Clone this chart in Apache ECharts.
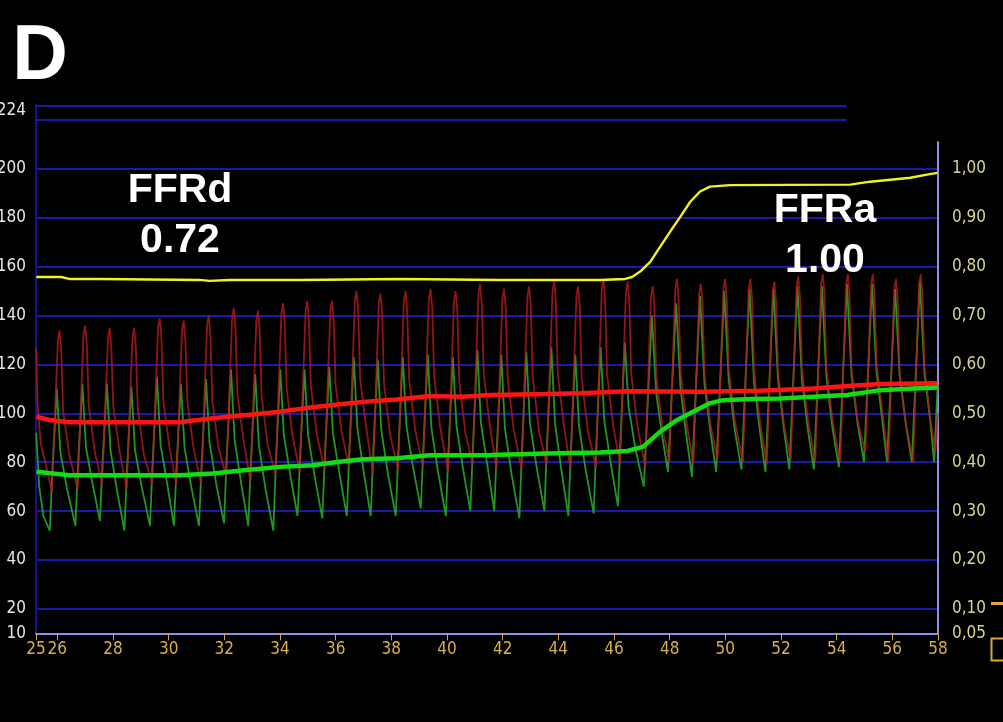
<!DOCTYPE html>
<html>
<head>
<meta charset="utf-8">
<script src="https://cdn.jsdelivr.net/npm/echarts@6/dist/echarts.min.js"></script>
<style>
  html, body { margin: 0; padding: 0; background: #000; }
  #chart { width: 1003px; height: 722px; }
</style>
</head>
<body>
<div id="chart"></div>
<script>
// Recording window (s)
const timeStart = 25.234;
const timeEnd = 57.64;
const timeTicks = [25.234, 26, 28, 30, 32, 34, 36, 38, 40, 42, 44, 46, 48, 50, 52, 54, 56, 57.64];

// Pressure axis (mmHg)
const pressureMin = 10;
const pressureMax = 226.3;
const pressureLabels = [10, 20, 40, 60, 80, 100, 120, 140, 160, 180, 200, 224];
const pressureGrid = [20, 40, 60, 80, 100, 120, 140, 160, 180, 200];
const headerBands = [226.0, 220.3];
const headerBandEnd = 54.35;

// Ratio axis (Pd/Pa)
const ratioMin = 0.05;
const ratioMax = 1.0552;
const ratioLabels = [0.05, 0.1, 0.2, 0.3, 0.4, 0.5, 0.6, 0.7, 0.8, 0.9, 1.0];

// Aortic pressure waveform (Pa), [time, mmHg]
const paWave = [
  [25.24,127],[25.29,104],[25.40,88],
  [25.81,68],[26.02,130],[26.08,134],[26.14,126],[26.21,101],[26.43,83],
  [26.73,69],[26.94,132],[27.00,136],[27.06,128],[27.13,103],[27.35,84],
  [27.61,71],[27.82,131],[27.88,135],[27.94,127],[28.01,103],[28.23,85],
  [28.49,69],[28.70,131],[28.76,135],[28.82,127],[28.89,102],[29.11,83],
  [29.41,71],[29.62,135],[29.68,139],[29.74,131],[29.81,105],[30.03,86],
  [30.27,71],[30.48,134],[30.54,138],[30.60,130],[30.67,105],[30.89,86],
  [31.17,71],[31.38,136],[31.44,140],[31.50,132],[31.57,105],[31.79,86],
  [32.07,74],[32.28,139],[32.34,143],[32.40,135],[32.47,108],[32.69,89],
  [32.94,72],[33.15,138],[33.21,142],[33.27,134],[33.34,107],[33.56,87],
  [33.84,75],[34.05,141],[34.11,145],[34.17,137],[34.24,110],[34.46,90],
  [34.71,76],[34.92,142],[34.98,146],[35.04,138],[35.11,111],[35.33,91],
  [35.60,77],[35.81,142],[35.87,146],[35.93,138],[36.00,111],[36.22,92],
  [36.48,78],[36.69,146],[36.75,150],[36.81,142],[36.88,114],[37.10,94],
  [37.34,75],[37.55,145],[37.61,149],[37.67,141],[37.74,112],[37.96,91],
  [38.24,77],[38.45,146],[38.51,150],[38.57,142],[38.64,114],[38.86,93],
  [39.14,78],[39.35,147],[39.41,151],[39.47,143],[39.54,115],[39.76,94],
  [40.04,76],[40.25,146],[40.31,150],[40.37,142],[40.44,113],[40.66,92],
  [40.92,79],[41.13,149],[41.19,153],[41.25,145],[41.32,116],[41.54,95],
  [41.78,77],[41.99,147],[42.05,151],[42.11,143],[42.18,114],[42.40,93],
  [42.68,77],[42.89,148],[42.95,152],[43.01,144],[43.08,115],[43.30,93],
  [43.58,79],[43.79,150],[43.85,154],[43.91,146],[43.98,116],[44.20,95],
  [44.44,77],[44.65,148],[44.71,152],[44.77,144],[44.84,114],[45.06,93],
  [45.35,78],[45.56,151],[45.62,155],[45.68,147],[45.75,116],[45.97,95],
  [46.22,79],[46.43,150],[46.49,154],[46.55,146],[46.62,116],[46.84,95],
  [47.12,78],[47.33,148],[47.39,152],[47.45,144],[47.52,115],[47.74,94],
  [47.99,80],[48.20,151],[48.26,155],[48.32,147],[48.39,117],[48.61,96],
  [48.85,79],[49.06,149],[49.12,153],[49.18,145],[49.25,116],[49.47,95],
  [49.72,81],[49.93,151],[49.99,155],[50.05,147],[50.12,118],[50.34,97],
  [50.63,80],[50.84,151],[50.90,155],[50.96,147],[51.03,117],[51.25,96],
  [51.49,79],[51.70,150],[51.76,154],[51.82,146],[51.89,117],[52.11,95],
  [52.35,81],[52.56,152],[52.62,156],[52.68,148],[52.75,118],[52.97,97],
  [53.23,80],[53.44,153],[53.50,157],[53.56,149],[53.63,118],[53.85,97],
  [54.13,80],[54.34,153],[54.40,157],[54.46,149],[54.53,118],[54.75,97],
  [55.03,84],[55.24,153],[55.30,157],[55.36,149],[55.43,120],[55.65,100],
  [55.86,80],[56.07,151],[56.13,155],[56.19,147],[56.26,117],[56.48,96],
  [56.75,80],[56.96,153],[57.02,157],[57.08,149],[57.15,119],[57.37,97],
  [57.55,84],[57.63,100]
];

// Distal pressure waveform (Pd), [time, mmHg]
const pdWave = [
  [25.24,92],[25.35,70],[25.50,58],
  [25.73,52],[25.82,76],[25.98,110],[26.11,84],[26.35,69],
  [26.65,54],[26.74,78],[26.90,112],[27.03,86],[27.27,71],
  [27.53,56],[27.62,79],[27.78,112],[27.91,85],[28.15,68],
  [28.41,52],[28.50,76],[28.66,111],[28.79,85],[29.03,70],
  [29.33,54],[29.42,79],[29.58,115],[29.71,87],[29.95,71],
  [30.19,54],[30.28,77],[30.44,112],[30.57,86],[30.81,70],
  [31.09,54],[31.18,78],[31.34,114],[31.47,88],[31.71,71],
  [31.99,55],[32.08,81],[32.24,118],[32.37,89],[32.61,71],
  [32.86,54],[32.95,79],[33.11,116],[33.24,87],[33.48,69],
  [33.76,52],[33.85,79],[34.01,118],[34.14,91],[34.38,74],
  [34.63,58],[34.72,82],[34.88,118],[35.01,91],[35.25,74],
  [35.52,57],[35.61,82],[35.77,119],[35.90,92],[36.14,75],
  [36.40,58],[36.49,84],[36.65,123],[36.78,94],[37.02,75],
  [37.26,58],[37.35,84],[37.51,122],[37.64,93],[37.88,75],
  [38.16,58],[38.25,84],[38.41,123],[38.54,95],[38.78,78],
  [39.06,61],[39.15,86],[39.31,124],[39.44,94],[39.68,76],
  [39.96,58],[40.05,84],[40.21,123],[40.34,95],[40.58,77],
  [40.84,60],[40.93,86],[41.09,126],[41.22,96],[41.46,78],
  [41.70,60],[41.79,86],[41.95,124],[42.08,94],[42.32,75],
  [42.60,57],[42.69,84],[42.85,125],[42.98,96],[43.22,78],
  [43.50,60],[43.59,87],[43.75,127],[43.88,96],[44.12,76],
  [44.36,58],[44.45,85],[44.61,124],[44.74,95],[44.98,77],
  [45.27,59],[45.36,86],[45.52,127],[45.65,97],[45.89,79],
  [46.14,62],[46.23,89],[46.39,129],[46.52,103],[46.76,86],
  [47.07,70],[47.36,140],[47.52,108],[47.74,90],
  [47.94,76],[48.23,145],[48.39,110],[48.61,90],
  [48.80,74],[49.09,148],[49.25,112],[49.47,92],
  [49.67,76],[49.96,150],[50.12,114],[50.34,93],
  [50.58,77],[50.87,151],[51.03,113],[51.25,92],
  [51.44,76],[51.73,151],[51.89,114],[52.11,93],
  [52.30,77],[52.59,152],[52.75,114],[52.97,93],
  [53.18,77],[53.47,152],[53.63,115],[53.85,94],
  [54.08,78],[54.37,153],[54.53,116],[54.75,96],
  [54.98,80],[55.27,153],[55.43,117],[55.65,96],
  [55.81,80],[56.10,151],[56.26,116],[56.48,96],
  [56.70,80],[56.99,154],[57.15,117],[57.37,96],
  [57.50,80],[57.63,112]
];

// Mean aortic pressure (Pa mean), [time, mmHg]
const paMean = [
  [25.25,98.6],[25.71,97.3],[26.43,96.4],[28.59,96.4],[30.39,96.4],[31.58,98.0],
  [32.80,99.3],[33.99,100.7],[35.17,102.5],[36.14,103.7],[36.97,104.7],[38.19,105.7],
  [39.38,107.1],[40.57,106.8],[41.54,107.5],[43.59,107.9],[44.78,108.2],[46.47,109.0],
  [49.09,108.8],[51.25,109.3],[53.16,110.2],[54.38,111.2],[55.57,112.0],[57.62,112.3]
];

// Mean distal pressure (Pd mean), [time, mmHg]
const pdMean = [
  [25.25,76.1],[26.43,74.7],[30.39,74.7],[31.58,75.4],[32.80,76.8],[33.99,78.1],
  [35.17,78.8],[36.14,80.2],[36.97,81.2],[38.19,81.6],[39.38,82.9],[41.54,83.0],
  [43.59,83.6],[45.50,84.0],[46.47,84.6],[47.04,86.3],[47.66,92.5],[48.27,97.3],
  [48.84,100.7],[49.46,104.2],[49.92,105.4],[50.89,105.9],[51.97,106.1],[53.16,106.8],
  [54.38,107.5],[55.57,109.5],[56.75,110.2],[57.62,110.6]
];

// Pd/Pa ratio trace, [time, ratio]
const ratioTrace = [
  [25.245,0.779],[26.14,0.779],[26.43,0.775],[27.51,0.775],[31.11,0.773],[31.47,0.771],
  [32.19,0.773],[34.71,0.773],[38.30,0.775],[41.90,0.773],[45.50,0.773],[46.40,0.775],
  [46.65,0.779],[46.94,0.790],[47.30,0.810],[47.66,0.841],[48.02,0.872],[48.38,0.902],
  [48.74,0.933],[49.09,0.954],[49.45,0.964],[50.17,0.967],[54.49,0.968],[55.21,0.974],
  [55.93,0.978],[56.65,0.982],[57.19,0.988],[57.62,0.992]
];

const narrow = '"DejaVu Sans Condensed", "Liberation Sans Narrow", "Liberation Sans", sans-serif';
const gridBlue = '#1a1aa6';
const frameLavender = '#8e8ee8';

const chart = echarts.init(document.getElementById('chart'), null, { renderer: 'canvas' });

chart.setOption({
  backgroundColor: '#000000',
  animation: false,
  grid: [
    { left: 36, right: 65, top: 104.7, bottom: 88.7, outerBoundsMode: 'none', containLabel: false },
    { left: 36, right: 65, top: 142, bottom: 88.7, outerBoundsMode: 'none', containLabel: false }
  ],
  xAxis: [
    {
      type: 'value', gridIndex: 0, min: timeStart, max: timeEnd,
      axisLine: { show: true, lineStyle: { color: frameLavender, width: 2 } },
      axisTick: { show: true, customValues: timeTicks, length: 7, lineStyle: { color: '#d2aa4a', width: 1 } },
      axisLabel: {
        show: true, customValues: timeTicks, margin: 8, hideOverlap: false,
        showMinLabel: true, showMaxLabel: true,
        color: '#d8b04c', fontFamily: narrow, fontSize: 17,
        formatter: v => String(Math.round(v))
      },
      splitLine: { show: false }
    },
    {
      type: 'value', gridIndex: 1, min: timeStart, max: timeEnd, show: false
    }
  ],
  yAxis: [
    {
      type: 'value', gridIndex: 0, position: 'left', min: pressureMin, max: pressureMax,
      axisLine: { show: true, lineStyle: { color: '#12128e', width: 2 } },
      axisTick: { show: false, customValues: pressureGrid },
      axisLabel: {
        show: true, customValues: pressureLabels, margin: 10, hideOverlap: false,
        color: '#e6e6e6', fontFamily: narrow, fontSize: 17,
        formatter: v => String(v)
      },
      splitLine: { show: true, lineStyle: { color: gridBlue, width: 2 } }
    },
    {
      type: 'value', gridIndex: 1, position: 'right', min: ratioMin, max: ratioMax,
      axisLine: { show: true, lineStyle: { color: frameLavender, width: 2 } },
      axisTick: { show: false, customValues: ratioLabels },
      axisLabel: {
        show: true, customValues: ratioLabels, margin: 14, hideOverlap: false,
        color: '#d6d68c', fontFamily: narrow, fontSize: 17,
        formatter: v => v.toFixed(2).replace('.', ',')
      },
      splitLine: { show: false }
    }
  ],
  series: [
    {
      name: 'Pd', type: 'line', xAxisIndex: 0, yAxisIndex: 0, data: pdWave,
      showSymbol: false, symbol: 'none', z: 2,
      lineStyle: { color: '#26a626', width: 1.8, opacity: 0.9 },
      markLine: {
        silent: true, symbol: ['none', 'none'], label: { show: false },
        lineStyle: { color: gridBlue, width: 2, type: 'solid' },
        data: headerBands.map(v => [{ coord: [timeStart, v] }, { coord: [headerBandEnd, v] }])
      }
    },
    {
      name: 'Pa', type: 'line', xAxisIndex: 0, yAxisIndex: 0, data: paWave,
      showSymbol: false, symbol: 'none', z: 3,
      lineStyle: { color: '#b41a1a', width: 1.8, opacity: 0.8 }
    },
    {
      name: 'Pa mean', type: 'line', xAxisIndex: 0, yAxisIndex: 0, data: paMean,
      showSymbol: false, symbol: 'none', z: 5,
      lineStyle: { color: '#ff1414', width: 4.5 }
    },
    {
      name: 'Pd mean', type: 'line', xAxisIndex: 0, yAxisIndex: 0, data: pdMean,
      showSymbol: false, symbol: 'none', z: 5,
      lineStyle: { color: '#14dc14', width: 4.5 }
    },
    {
      name: 'Pd/Pa', type: 'line', xAxisIndex: 1, yAxisIndex: 1, data: ratioTrace,
      showSymbol: false, symbol: 'none', z: 6,
      lineStyle: { color: '#f2f21e', width: 2.4 }
    }
  ],
  graphic: [
    {
      type: 'text', x: 40, y: 58, z: 20,
      style: {
        text: 'D', fill: '#ffffff', align: 'center', verticalAlign: 'middle',
        font: 'bold 77px "Liberation Sans", Arial, sans-serif'
      }
    },
    {
      type: 'text', x: 180, y: 191, z: 20,
      style: {
        text: 'FFRd', fill: '#ffffff', align: 'center', verticalAlign: 'middle',
        font: 'bold 41px "Liberation Sans", Arial, sans-serif'
      }
    },
    {
      type: 'text', x: 180, y: 241, z: 20,
      style: {
        text: '0.72', fill: '#ffffff', align: 'center', verticalAlign: 'middle',
        font: 'bold 41px "Liberation Sans", Arial, sans-serif'
      }
    },
    {
      type: 'text', x: 825, y: 211, z: 20,
      style: {
        text: 'FFRa', fill: '#ffffff', align: 'center', verticalAlign: 'middle',
        font: 'bold 41px "Liberation Sans", Arial, sans-serif'
      }
    },
    {
      type: 'text', x: 825, y: 261, z: 20,
      style: {
        text: '1.00', fill: '#ffffff', align: 'center', verticalAlign: 'middle',
        font: 'bold 41px "Liberation Sans", Arial, sans-serif'
      }
    },
    {
      type: 'rect', z: 20,
      shape: { x: 991, y: 602, width: 12, height: 3 },
      style: { fill: '#d9a441' }
    },
    {
      type: 'rect', z: 20,
      shape: { x: 991.5, y: 638.5, width: 14, height: 22 },
      style: { fill: 'none', stroke: '#d9a441', lineWidth: 2 }
    }
  ]
});
</script>
</body>
</html>
